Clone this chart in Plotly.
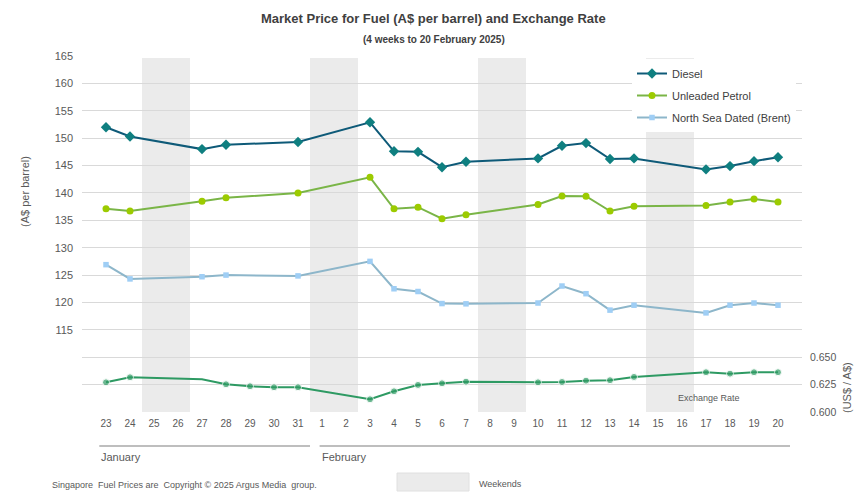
import plotly.graph_objects as go

# ---------------- data ----------------
day_labels = ["23", "24", "25", "26", "27", "28", "29", "30", "31",
              "1", "2", "3", "4", "5", "6", "7", "8", "9", "10",
              "11", "12", "13", "14", "15", "16", "17", "18", "19", "20"]
month_names = ["January", "February"]
weekend_days = [("25", "26"), ("1", "2"), ("8", "9"), ("15", "16")]

fuel_days = ["23", "24", "27", "28", "31", "3", "4", "5", "6", "7",
             "10", "11", "12", "13", "14", "17", "18", "19", "20"]
diesel = [152.0, 150.3, 148.0, 148.8, 149.3, 152.9, 147.6, 147.5, 144.7, 145.7,
          146.3, 148.6, 149.1, 146.2, 146.3, 144.3, 144.9, 145.8, 146.5]
unleaded_petrol = [137.1, 136.7, 138.5, 139.1, 140.0, 142.85, 137.1, 137.4, 135.3, 136.0,
                   137.9, 139.45, 139.4, 136.7, 137.55, 137.7, 138.35, 138.9, 138.35]
brent = [126.9, 124.3, 124.7, 125.0, 124.85, 127.5, 122.5, 122.0, 119.8, 119.75,
         119.9, 123.0, 121.6, 118.6, 119.5, 118.1, 119.5, 119.9, 119.5]

fx_days = ["23", "24", "27", "28", "29", "30", "31", "3", "4", "5", "6", "7",
           "10", "11", "12", "13", "14", "17", "18", "19", "20"]
exchange_rate = [0.6271, 0.6317, 0.6299, 0.6253, 0.6235, 0.6226, 0.6226, 0.6116, 0.6189,
                 0.6247, 0.6262, 0.6277, 0.6271, 0.6274, 0.6286, 0.6290, 0.6320,
                 0.6363, 0.6350, 0.6363, 0.6363]
fx_unmarked_days = ["27"]

left_ticks = [115, 120, 125, 130, 135, 140, 145, 150, 155, 160, 165]
right_ticks = [0.600, 0.625, 0.650]

# ---------------- layout helpers ----------------
W, H = 868, 504
L, R, T, B = 82, 802, 56, 412


def idx(lbl, start=0):
    return day_labels.index(lbl, start)


def pos_list(days):
    out, start = [], 0
    for d in days:
        i = day_labels.index(d, start)
        out.append(i)
        start = i + 1
    return out


def px(xpix):
    return (xpix - L) / (R - L)


def py(ypix):
    return (B - ypix) / (B - T)


FONT = "Liberation Sans, Arial, sans-serif"
GRAY = "#595959"

fig = go.Figure()

fig.add_trace(go.Scatter(
    x=pos_list(fuel_days), y=diesel, name="Diesel", mode="lines+markers",
    legendgroup="d",
    line=dict(color="#0e5a78", width=2),
    marker=dict(symbol="diamond", size=8, color="#0f7f80")))
fig.add_trace(go.Scatter(
    x=pos_list(fuel_days), y=unleaded_petrol, name="Unleaded Petrol", mode="lines+markers",
    legendgroup="p",
    line=dict(color="#7ab547", width=2),
    marker=dict(symbol="circle", size=7, color="#9ccb00")))
fig.add_trace(go.Scatter(
    x=pos_list(fuel_days), y=brent, name="North Sea Dated (Brent)", mode="lines+markers",
    legendgroup="b",
    line=dict(color="#8db6ca", width=2),
    marker=dict(symbol="square", size=5.5, color="#9fcef5")))
fx_x = pos_list(fx_days)
fig.add_trace(go.Scatter(
    x=fx_x, y=exchange_rate, name="Exchange Rate", mode="lines+markers",
    yaxis="y2", showlegend=False,
    line=dict(color="#2e9a63", width=2),
    marker=dict(symbol="circle", size=[0 if d in fx_unmarked_days else 7 for d in fx_days],
                color="#2e9a63")))

# weekend bands
shapes = []
for a, b in weekend_days:
    i0 = idx(a)
    i1 = idx(b, i0)
    shapes.append(dict(type="rect", xref="x", yref="paper", x0=i0 - 0.5, x1=i1 + 0.5,
                       y0=0, y1=py(58), fillcolor="#ebebeb", line=dict(width=0), layer="below"))

# month underline lines
jan_end = idx("31")
feb_start = idx("1")
shapes.append(dict(type="line", xref="x", yref="paper", x0=-0.28, x1=jan_end + 0.5,
                   y0=py(446), y1=py(446), line=dict(color="#7f7f7f", width=1.2)))
shapes.append(dict(type="line", xref="x", yref="paper", x0=feb_start - 0.1, x1=len(day_labels) - 0.5,
                   y0=py(446), y1=py(446), line=dict(color="#7f7f7f", width=1.2)))
# weekend legend box
shapes.append(dict(type="rect", xref="paper", yref="paper", x0=px(397), x1=px(469),
                   y0=py(491), y1=py(473), fillcolor="#ebebeb", line=dict(color="#e0e0e0", width=1)))

annotations = [
    dict(text="<b>Market Price for Fuel (A$ per barrel) and Exchange Rate</b>",
         x=px(433), y=py(18), font=dict(size=13, color="#404040", family=FONT)),
    dict(text="<b>(4 weeks to 20 February 2025)</b>",
         x=px(434), y=py(39), font=dict(size=10, color="#404040", family=FONT)),
    dict(text="(A$ per barrel)", x=px(17), y=py(192), textangle=-90,
         font=dict(size=11, color=GRAY, family=FONT)),
    dict(text="(US$ / A$)", x=px(855), y=py(388), textangle=-90,
         font=dict(size=11, color=GRAY, family=FONT)),
    dict(text="Exchange Rate", x=px(742), y=py(398),
         font=dict(size=9, color=GRAY, family=FONT)),
    dict(text=month_names[0], x=-0.28, xref="x", y=py(457), xanchor="left",
         font=dict(size=11, color=GRAY, family=FONT)),
    dict(text=month_names[1], x=feb_start - 0.1, xref="x", y=py(457), xanchor="left",
         font=dict(size=11, color=GRAY, family=FONT)),
    dict(text="Singapore  Fuel Prices are  Copyright © 2025 Argus Media  group.",
         x=px(50), y=py(485), xanchor="left",
         font=dict(size=9, color=GRAY, family=FONT)),
    dict(text="Weekends", x=px(477), y=py(484), xanchor="left",
         font=dict(size=9, color=GRAY, family=FONT)),
]
for a in annotations:
    a.setdefault("xref", "paper")
    a.setdefault("yref", "paper")
    a.setdefault("yanchor", "middle")
    a["showarrow"] = False

grid_vals = list(range(100, 166, 5))

fig.update_layout(
    width=W, height=H,
    margin=dict(l=L, r=W - R, t=T, b=H - B),
    paper_bgcolor="white", plot_bgcolor="white",
    font=dict(family=FONT, color=GRAY),
    showlegend=True,
    legend=dict(x=px(632), y=py(59), xanchor="left", yanchor="top",
                bgcolor="white", font=dict(size=11, color="#404040", family=FONT),
                itemwidth=30, tracegroupgap=3),
    xaxis=dict(range=[-1, len(day_labels)], tickmode="array",
               tickvals=list(range(len(day_labels))), ticktext=day_labels,
               showgrid=False, zeroline=False, showline=False,
               ticks="", tickfont=dict(size=10, color=GRAY, family=FONT),
               ticklabelstandoff=4, fixedrange=True),
    yaxis=dict(range=[100, 165], tickmode="array", tickvals=grid_vals,
               ticktext=[str(v) if v in left_ticks else "" for v in grid_vals],
               showgrid=True, gridcolor="#d9d9d9", gridwidth=1,
               zeroline=False, showline=False, ticks="",
               tickfont=dict(size=11, color=GRAY, family=FONT), ticklabelstandoff=8),
    yaxis2=dict(range=[0.600, 0.925], overlaying="y", side="right",
                tickmode="array", tickvals=right_ticks,
                ticktext=[f"{v:.3f}" for v in right_ticks],
                showgrid=False, zeroline=False, showline=False, ticks="",
                tickfont=dict(size=10.5, color=GRAY, family=FONT), ticklabelstandoff=7),
    shapes=shapes,
    annotations=annotations,
)

fig.write_html("out.html")
